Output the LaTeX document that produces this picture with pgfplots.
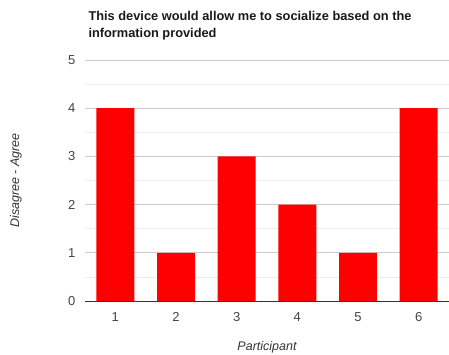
\documentclass[border=0pt]{standalone}
\usepackage{fontspec}
\setmainfont{Liberation Sans}
\usepackage{pgfplots}
\pgfplotsset{compat=1.18}
\definecolor{tickgray}{HTML}{444444}
\definecolor{majgrid}{HTML}{CCCCCC}
\definecolor{mingrid}{HTML}{EBEBEB}
\definecolor{axisgray}{HTML}{333333}
\begin{document}
\begin{tikzpicture}
\useasboundingbox (-85pt,-53pt) rectangle (364pt,301pt);
\begin{axis}[
  at={(0pt,0pt)}, anchor=south west,
  scale only axis, width=364pt, height=241pt,
  xmin=0.5, xmax=6.5, ymin=0, ymax=5,
  xtick={1,2,3,4,5,6},
  ytick={0,1,2,3,4,5},
  minor ytick={0.5,1.5,2.5,3.5,4.5},
  ymajorgrids, yminorgrids,
  major grid style={majgrid, line width=0.8pt},
  minor grid style={mingrid, line width=0.8pt},
  axis x line*=bottom, axis y line*=left,
  x axis line style={axisgray, line width=1pt, -},
  y axis line style={draw=none},
  tick style={draw=none},
  /pgf/number format/assume math mode=true,
  ticklabel style={font=\fontsize{13}{15}\selectfont, text=tickgray},
  yticklabel style={xshift=-6pt},
  xticklabel style={yshift=-4pt},
  xlabel={\itshape Participant},
  label style={font=\fontsize{12.5}{14}\selectfont, text=axisgray},
  xlabel style={at={(axis description cs:0.5,0)}, anchor=center, yshift=-46pt},
  ybar, bar width=38pt,
  clip=false,
]
\addplot[fill=red, draw=none] coordinates {(1,4) (2,1) (3,3) (4,2) (5,1) (6,4)};
\node[rotate=90, anchor=center, font=\itshape\fontsize{12.5}{14}\selectfont, text=axisgray] at (axis description cs:-0.19,0.5) {Disagree - Agree};
\end{axis}
\node[anchor=north west, align=left, font=\bfseries\fontsize{12.8}{17}\selectfont, text=black!90] at (0pt,293pt) {This device would allow me to socialize based on the\\information provided};
\end{tikzpicture}
\end{document}
